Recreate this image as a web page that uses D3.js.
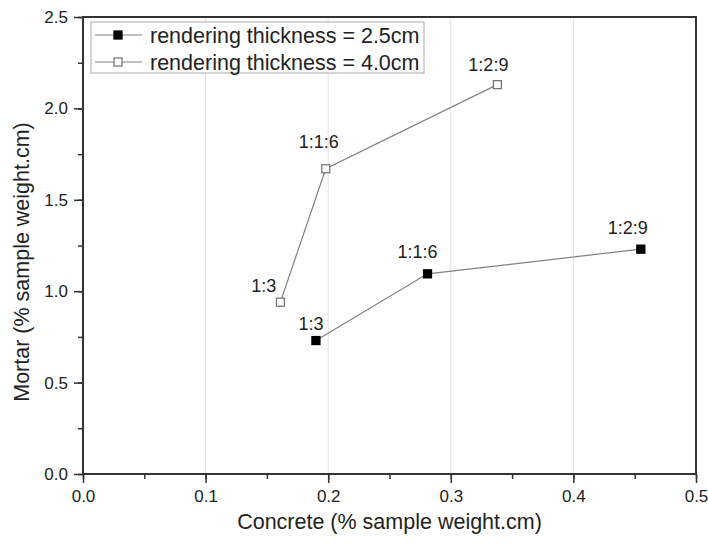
<!DOCTYPE html>
<html>
<head>
<meta charset="utf-8">
<script src="https://cdn.jsdelivr.net/npm/d3@7"></script>
<style>
    body { margin: 0; background: #fff; }
    svg { display: block; }
    svg text { font-family: Arial, "Liberation Sans", sans-serif; }
</style>
</head>
<body>
<div id="chart"></div>
<script>
// Data
const seriesNames = ['rendering thickness = 2.5cm', 'rendering thickness = 4.0cm'];
const mixLabels = ['1:3', '1:1:6', '1:2:9'];
const concrete25 = [0.190, 0.281, 0.455];
const mortar25 = [0.73, 1.095, 1.23];
const concrete40 = [0.161, 0.198, 0.338];
const mortar40 = [0.94, 1.67, 2.13];
const xTicks = [0.0, 0.1, 0.2, 0.3, 0.4, 0.5];
const yTicks = [0.0, 0.5, 1.0, 1.5, 2.0, 2.5];

// label placement (dx, dy, anchor) relative to each marker
const labelPos25 = [[-5, -11, 'middle'], [-10, -16, 'middle'], [-13, -15, 'middle']];
const labelPos40 = [[-4, -10, 'end'], [-7, -21, 'middle'], [-9, -14, 'middle']];

const W = 708, H = 544;
const margin = { top: 17, right: 12, bottom: 70, left: 83 };
const width = W - margin.left - margin.right;
const height = H - margin.top - margin.bottom;

const svg = d3.select('#chart')
    .append('svg')
    .attr('width', W)
    .attr('height', H);

const g = svg.append('g')
    .attr('transform', `translate(${margin.left}, ${margin.top})`);

const x = d3.scaleLinear().domain([0, 0.5]).range([0, width]);
const y = d3.scaleLinear().domain([0, 2.5]).range([height, 0]);

// vertical grid lines
g.selectAll('.grid')
    .data(xTicks.slice(1, -1))
    .enter()
    .append('line')
    .attr('x1', d => x(d))
    .attr('x2', d => x(d))
    .attr('y1', 0)
    .attr('y2', height)
    .attr('stroke', '#e2e2e2')
    .attr('stroke-width', 1);

// axes: minor ticks first, then majors with labels
g.append('g')
    .attr('transform', `translate(0, ${height})`)
    .call(d3.axisBottom(x).tickValues(d3.range(0, 0.5001, 0.05)).tickSize(5).tickFormat(''))
    .call(a => a.select('.domain').remove());
g.append('g')
    .call(d3.axisLeft(y).tickValues(d3.range(0, 2.5001, 0.25)).tickSize(5).tickFormat(''))
    .call(a => a.select('.domain').remove());

const xAxis = g.append('g')
    .attr('transform', `translate(0, ${height})`)
    .call(d3.axisBottom(x).tickValues(xTicks).tickSize(9).tickPadding(7).tickFormat(d3.format('.1f')));
const yAxis = g.append('g')
    .call(d3.axisLeft(y).tickValues(yTicks).tickSize(9).tickPadding(6).tickFormat(d3.format('.1f')));

[xAxis, yAxis].forEach(a => {
    a.select('.domain').remove();
    a.selectAll('text').attr('font-size', 17).attr('fill', '#222');
});
g.selectAll('.tick line').attr('stroke', '#333').attr('stroke-width', 1.5);

// frame
g.append('rect')
    .attr('x', 0)
    .attr('y', 0)
    .attr('width', width)
    .attr('height', height)
    .attr('fill', 'none')
    .attr('stroke', '#333')
    .attr('stroke-width', 2);

// axis titles
svg.append('text')
    .attr('x', margin.left + width / 2)
    .attr('y', 529)
    .attr('text-anchor', 'middle')
    .attr('font-size', 21.5)
    .attr('fill', '#222')
    .text('Concrete (% sample weight.cm)');

svg.append('text')
    .attr('transform', 'translate(29, 262) rotate(-90)')
    .attr('text-anchor', 'middle')
    .attr('font-size', 21.5)
    .attr('fill', '#222')
    .text('Mortar (% sample weight.cm)');

// series
const series = [
    { name: seriesNames[0], xs: concrete25, ys: mortar25, fill: '#000', stroke: '#000', pos: labelPos25 },
    { name: seriesNames[1], xs: concrete40, ys: mortar40, fill: '#fff', stroke: '#777', pos: labelPos40 }
];

const line = d3.line()
    .x(d => x(d[0]))
    .y(d => y(d[1]));

const ms = 8;

series.forEach(s => {
    const pts = s.xs.map((v, i) => [v, s.ys[i]]);

    g.append('path')
        .datum(pts)
        .attr('d', line)
        .attr('fill', 'none')
        .attr('stroke', '#808080')
        .attr('stroke-width', 1.2);

    g.selectAll(null)
        .data(pts)
        .enter()
        .append('rect')
        .attr('x', d => x(d[0]) - ms / 2)
        .attr('y', d => y(d[1]) - ms / 2)
        .attr('width', ms)
        .attr('height', ms)
        .attr('fill', s.fill)
        .attr('stroke', s.stroke)
        .attr('stroke-width', 1.3);

    g.selectAll(null)
        .data(pts)
        .enter()
        .append('text')
        .attr('x', (d, i) => x(d[0]) + s.pos[i][0])
        .attr('y', (d, i) => y(d[1]) + s.pos[i][1])
        .attr('text-anchor', (d, i) => s.pos[i][2])
        .attr('font-size', 18)
        .attr('fill', '#222')
        .text((d, i) => mixLabels[i]);
});

// legend
const legend = svg.append('g')
    .attr('transform', 'translate(91, 22)');

legend.append('rect')
    .attr('width', 333)
    .attr('height', 51)
    .attr('fill', '#fff')
    .attr('stroke', '#aaa')
    .attr('stroke-width', 1);

series.forEach((s, i) => {
    const row = legend.append('g')
        .attr('transform', `translate(0, ${13 + i * 27})`);
    row.append('line')
        .attr('x1', 4)
        .attr('x2', 51)
        .attr('stroke', '#808080')
        .attr('stroke-width', 1.2);
    row.append('rect')
        .attr('x', 27 - ms / 2)
        .attr('y', -ms / 2)
        .attr('width', ms)
        .attr('height', ms)
        .attr('fill', s.fill)
        .attr('stroke', s.stroke)
        .attr('stroke-width', 1.3);
    row.append('text')
        .attr('x', 59)
        .attr('y', 7.5)
        .attr('font-size', 21.5)
        .attr('fill', '#222')
        .text(s.name);
});
</script>
</body>
</html>
